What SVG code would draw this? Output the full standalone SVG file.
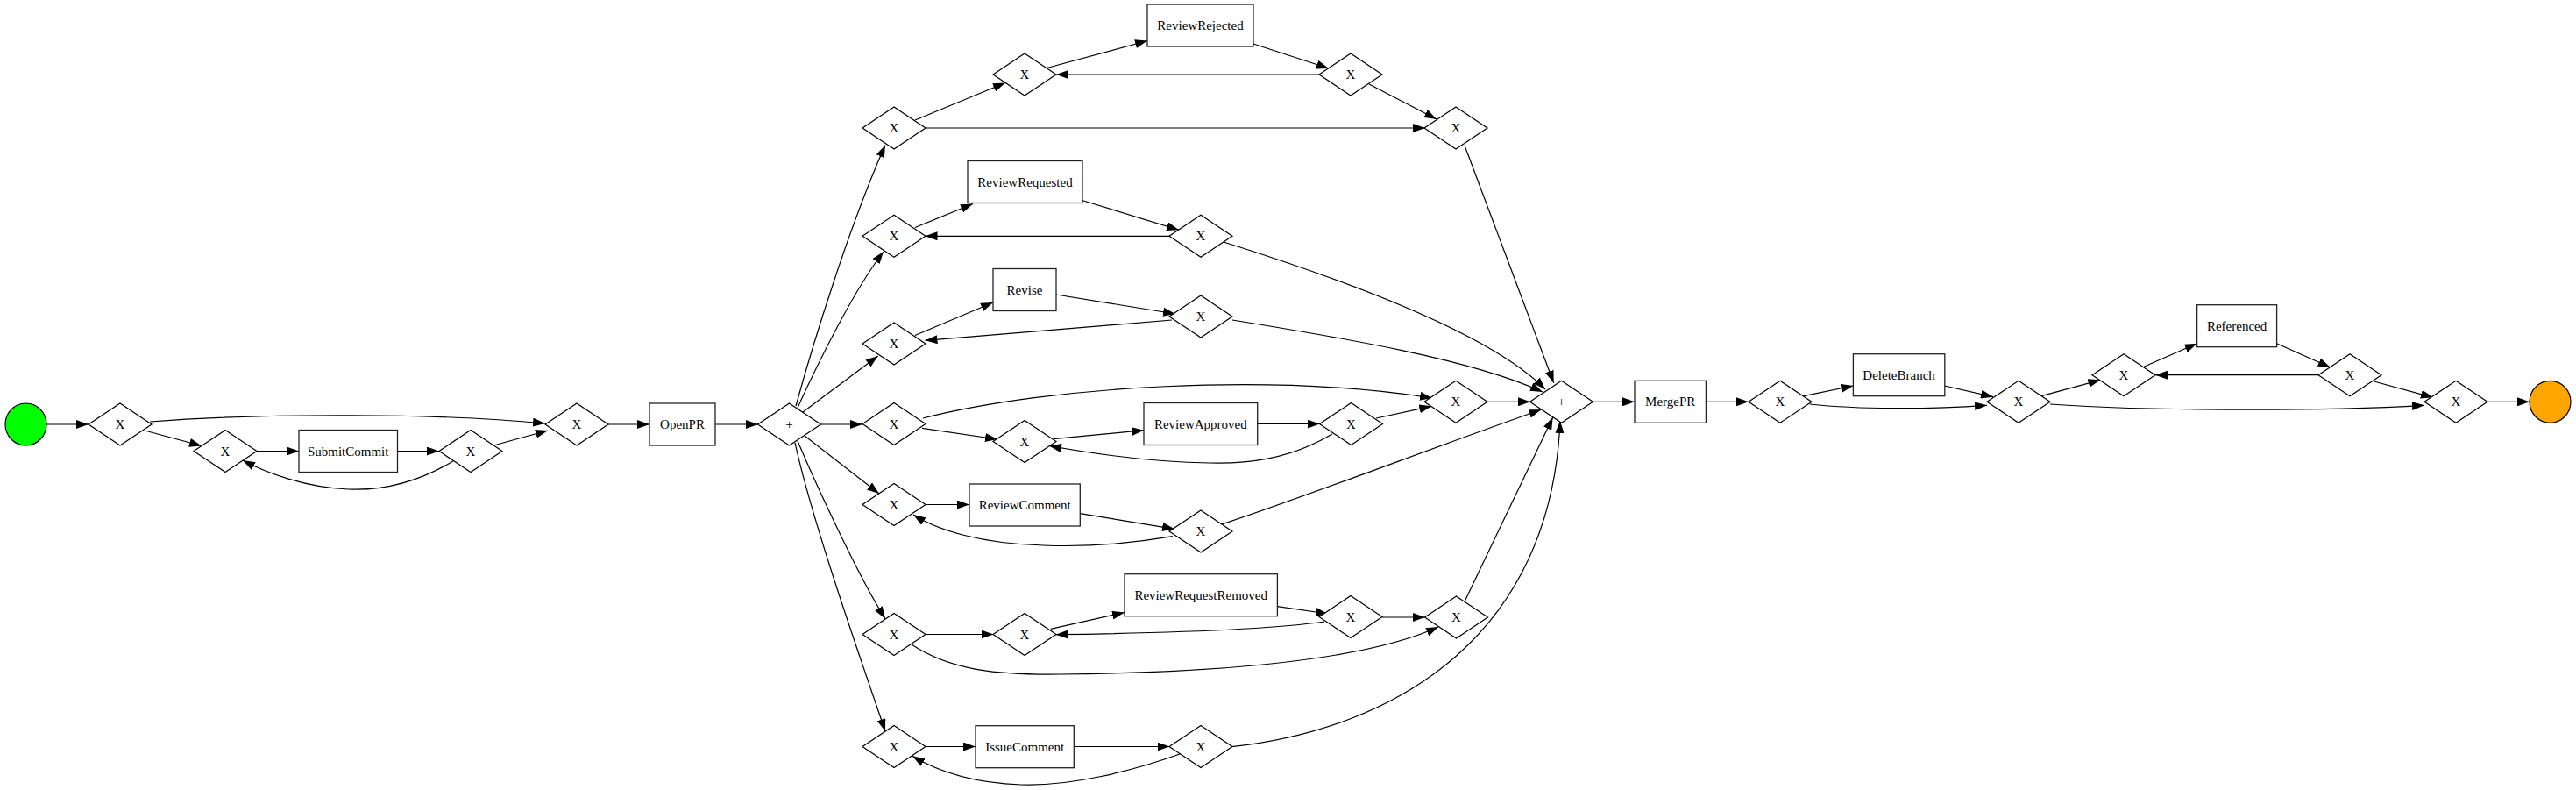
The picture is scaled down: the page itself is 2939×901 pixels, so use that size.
<svg xmlns="http://www.w3.org/2000/svg" xmlns:xlink="http://www.w3.org/1999/xlink" width="2939" height="901" viewBox="0 0 2939 901">
<style>
  .gw { fill: #ffffff; stroke: #000000; stroke-width: 1.2; }
  .task { fill: #ffffff; stroke: #222222; stroke-width: 1.3; }
  .ev { stroke: #000000; stroke-width: 1.2; }
  .lbl { font-family: "Liberation Serif", "Times New Roman", serif; font-size: 15px; fill: #000000; text-anchor: middle; }
  .edge { fill: none; stroke: #000000; stroke-width: 1.2; marker-end: url(#arr); }
</style>
<defs>
  <polygon id="dia" points="-36,0 0,-24 36,0 0,24"/>
  <marker id="arr" markerUnits="userSpaceOnUse" viewBox="0 0 14 10" refX="14" refY="5" markerWidth="14" markerHeight="10" orient="auto">
    <path d="M0,0 L14,5 L0,10 z" fill="#000000"/>
  </marker>
</defs>
<rect x="0" y="0" width="2939" height="901" fill="#ffffff"/>

<g id="connectors">
  <path class="edge" d="M53,484 L101,484"/>
  <path class="edge" d="M171,481 C300,471 500,471 622,483"/>
  <path class="edge" d="M165,491 L230,508.5"/>
  <path class="edge" d="M293,514.5 L341,514.5"/>
  <path class="edge" d="M453.5,514.5 L501,514.5"/>
  <path class="edge" d="M517,526 C480,548 440,560 397,558 C350,556 305,540 277,525"/>
  <path class="edge" d="M565,507.5 L625,491"/>
  <path class="edge" d="M694,484 L741,484"/>
  <path class="edge" d="M816,484 L865,484"/>

  <path class="edge" d="M908,463 C928,390 970,255 1010,165.5"/>
  <path class="edge" d="M910,465 C935,410 975,330 1008,287"/>
  <path class="edge" d="M916,470 L1001.7,406"/>
  <path class="edge" d="M936,484 L984,484"/>
  <path class="edge" d="M918,497 L1003,563"/>
  <path class="edge" d="M910,503 C930,550 978,655 1010,705.7"/>
  <path class="edge" d="M907,505 C928,600 985,760 1010,834"/>

  <path class="edge" d="M1044,137 L1147,94.5"/>
  <path class="edge" d="M1056,146 L1626,146"/>
  <path class="edge" d="M1194.5,77.5 L1309,46.5"/>
  <path class="edge" d="M1430,50 L1516,78"/>
  <path class="edge" d="M1505.5,85 L1205,85"/>
  <path class="edge" d="M1562,96 L1639,136"/>
  <path class="edge" d="M1671,166 L1772.7,436.7"/>

  <path class="edge" d="M1044,259.5 L1110,232.5"/>
  <path class="edge" d="M1234.6,228.5 L1345,262.3"/>
  <path class="edge" d="M1334,269.3 L1055.5,269.3"/>
  <path class="edge" d="M1396,276 C1530,318 1700,380 1763,444"/>

  <path class="edge" d="M1044,382.5 L1133,345"/>
  <path class="edge" d="M1205,336 L1341,358"/>
  <path class="edge" d="M1337,365 L1055.5,388.3"/>
  <path class="edge" d="M1406,365 C1530,385 1680,410 1760,447"/>

  <path class="edge" d="M1053,477 C1200,440 1450,425 1634,454"/>
  <path class="edge" d="M1052,488.3 L1138,501"/>
  <path class="edge" d="M1201.7,500.7 L1305,490.7"/>
  <path class="edge" d="M1434.7,483.5 L1505.7,483.5"/>
  <path class="edge" d="M1520,495 C1470,525 1420,529 1380,528 C1310,527 1250,518 1197,508.5"/>
  <path class="edge" d="M1570,477 L1633.3,463.3"/>
  <path class="edge" d="M1697,458.3 L1746,458.3"/>

  <path class="edge" d="M1056,575.5 L1106,575.5"/>
  <path class="edge" d="M1232.3,585.7 L1340,603.3"/>
  <path class="edge" d="M1338,611.7 C1290,620 1240,624 1190,622 C1120,620 1070,605 1042,587"/>
  <path class="edge" d="M1393,598.3 C1480,570 1650,505 1758.3,467.3"/>

  <path class="edge" d="M1056,723.5 L1133.5,723.5"/>
  <path class="edge" d="M1198.7,717.3 L1283,698.5"/>
  <path class="edge" d="M1457.4,691.7 L1515,700"/>
  <path class="edge" d="M1511,709 C1450,718 1330,722 1204.5,723.7"/>
  <path class="edge" d="M1577,704 L1625.7,704"/>
  <path class="edge" d="M1040,735 C1085,765 1140,770 1210,769 C1400,767 1560,752 1641,715"/>
  <path class="edge" d="M1671,686 L1771.7,476"/>

  <path class="edge" d="M1056,851.5 L1113,851.5"/>
  <path class="edge" d="M1225.4,851.5 L1334.5,851.5"/>
  <path class="edge" d="M1346,860 C1290,880 1220,897 1165,895 C1110,893 1070,880 1041,862.3"/>
  <path class="edge" d="M1405.4,851.7 C1600,830 1770,720 1780,480"/>

  <path class="edge" d="M1817.4,458.3 L1865,458.3"/>
  <path class="edge" d="M1946.4,458.3 L1995,458.3"/>
  <path class="edge" d="M2058,451.7 L2114.4,440"/>
  <path class="edge" d="M2064.7,461 C2120,467 2200,467 2267,462.3"/>
  <path class="edge" d="M2218.6,440 L2274,452.7"/>
  <path class="edge" d="M2329,451.7 L2396.4,433.3"/>
  <path class="edge" d="M2339,461 C2450,469 2650,469 2766,462.3"/>
  <path class="edge" d="M2446,418.3 L2506.6,391.7"/>
  <path class="edge" d="M2597.6,391.7 L2658.7,419"/>
  <path class="edge" d="M2645,427.7 L2459,427.7"/>
  <path class="edge" d="M2708.5,435 L2776,453.3"/>
  <path class="edge" d="M2837.5,458.3 L2886,458.3"/>
</g>

<g id="start"><ellipse class="ev" cx="29.5" cy="484" rx="23.5" ry="24" fill="#00ff00"/></g>
<g id="end"><ellipse class="ev" cx="2909.5" cy="458.3" rx="23.5" ry="24" fill="#ffa500"/></g>

<g id="gw_x1"><use href="#dia" class="gw" x="137" y="484"/><text class="lbl" x="137" y="489">X</text></g>
<g id="gw_x2"><use href="#dia" class="gw" x="257" y="514.5"/><text class="lbl" x="257" y="519.5">X</text></g>
<g id="task_submitcommit"><rect class="task" x="341" y="490.5" width="112.5" height="48"/><text class="lbl" x="397.2" y="519.5">SubmitCommit</text></g>
<g id="gw_x3"><use href="#dia" class="gw" x="537" y="514.5"/><text class="lbl" x="537" y="519.5">X</text></g>
<g id="gw_x4"><use href="#dia" class="gw" x="658" y="484"/><text class="lbl" x="658" y="489">X</text></g>
<g id="task_openpr"><rect class="task" x="741" y="460" width="75" height="48"/><text class="lbl" x="778.5" y="489">OpenPR</text></g>
<g id="gw_fork"><use href="#dia" class="gw" x="900.5" y="484"/><text class="lbl" x="900.5" y="489">+</text></g>

<g id="gw_c"><use href="#dia" class="gw" x="1020" y="146"/><text class="lbl" x="1020" y="151">X</text></g>
<g id="gw_a"><use href="#dia" class="gw" x="1169" y="85"/><text class="lbl" x="1169" y="90">X</text></g>
<g id="task_reviewrejected"><rect class="task" x="1309" y="5" width="121" height="48"/><text class="lbl" x="1369.5" y="34">ReviewRejected</text></g>
<g id="gw_b"><use href="#dia" class="gw" x="1541" y="85"/><text class="lbl" x="1541" y="90">X</text></g>
<g id="gw_d"><use href="#dia" class="gw" x="1661" y="146"/><text class="lbl" x="1661" y="151">X</text></g>

<g id="gw_e"><use href="#dia" class="gw" x="1020" y="269.3"/><text class="lbl" x="1020" y="274.3">X</text></g>
<g id="task_reviewrequested"><rect class="task" x="1104" y="183.5" width="131" height="48"/><text class="lbl" x="1169.5" y="212.5">ReviewRequested</text></g>
<g id="gw_f"><use href="#dia" class="gw" x="1370" y="269.3"/><text class="lbl" x="1370" y="274.3">X</text></g>

<g id="gw_g"><use href="#dia" class="gw" x="1020" y="392"/><text class="lbl" x="1020" y="397">X</text></g>
<g id="task_revise"><rect class="task" x="1133" y="306.5" width="72" height="48"/><text class="lbl" x="1169" y="335.5">Revise</text></g>
<g id="gw_h"><use href="#dia" class="gw" x="1370" y="361"/><text class="lbl" x="1370" y="366">X</text></g>

<g id="gw_i"><use href="#dia" class="gw" x="1020" y="483.5"/><text class="lbl" x="1020" y="488.5">X</text></g>
<g id="gw_j"><use href="#dia" class="gw" x="1169" y="503.5"/><text class="lbl" x="1169" y="508.5">X</text></g>
<g id="task_reviewapproved"><rect class="task" x="1305" y="459.5" width="129.7" height="48"/><text class="lbl" x="1369.8" y="488.5">ReviewApproved</text></g>
<g id="gw_k"><use href="#dia" class="gw" x="1541.5" y="483.5"/><text class="lbl" x="1541.5" y="488.5">X</text></g>
<g id="gw_l"><use href="#dia" class="gw" x="1661" y="458.3"/><text class="lbl" x="1661" y="463.3">X</text></g>

<g id="gw_m"><use href="#dia" class="gw" x="1020" y="575.5"/><text class="lbl" x="1020" y="580.5">X</text></g>
<g id="task_reviewcomment"><rect class="task" x="1106" y="552" width="126.3" height="48"/><text class="lbl" x="1169.2" y="581">ReviewComment</text></g>
<g id="gw_n"><use href="#dia" class="gw" x="1370" y="606"/><text class="lbl" x="1370" y="611">X</text></g>

<g id="gw_o"><use href="#dia" class="gw" x="1020" y="723.5"/><text class="lbl" x="1020" y="728.5">X</text></g>
<g id="gw_p"><use href="#dia" class="gw" x="1169" y="723.5"/><text class="lbl" x="1169" y="728.5">X</text></g>
<g id="task_reviewrequestremoved"><rect class="task" x="1283" y="654.7" width="174.4" height="48"/><text class="lbl" x="1370.2" y="683.7">ReviewRequestRemoved</text></g>
<g id="gw_q"><use href="#dia" class="gw" x="1541" y="703.5"/><text class="lbl" x="1541" y="708.5">X</text></g>
<g id="gw_r"><use href="#dia" class="gw" x="1661.5" y="704"/><text class="lbl" x="1661.5" y="709">X</text></g>

<g id="gw_s"><use href="#dia" class="gw" x="1020" y="851.5"/><text class="lbl" x="1020" y="856.5">X</text></g>
<g id="task_issuecomment"><rect class="task" x="1113" y="827.7" width="112.3" height="48"/><text class="lbl" x="1169.2" y="856.7">IssueComment</text></g>
<g id="gw_t"><use href="#dia" class="gw" x="1370" y="851.5"/><text class="lbl" x="1370" y="856.5">X</text></g>

<g id="gw_join"><use href="#dia" class="gw" x="1781.5" y="458.3"/><text class="lbl" x="1781.5" y="463.3">+</text></g>
<g id="task_mergepr"><rect class="task" x="1865" y="434.3" width="81.4" height="48"/><text class="lbl" x="1905.7" y="463.3">MergePR</text></g>
<g id="gw_u"><use href="#dia" class="gw" x="2031" y="458.3"/><text class="lbl" x="2031" y="463.3">X</text></g>
<g id="task_deletebranch"><rect class="task" x="2114.4" y="403.7" width="104.4" height="48"/><text class="lbl" x="2166.6" y="432.7">DeleteBranch</text></g>
<g id="gw_v"><use href="#dia" class="gw" x="2303" y="458.3"/><text class="lbl" x="2303" y="463.3">X</text></g>
<g id="gw_w"><use href="#dia" class="gw" x="2423" y="427.7"/><text class="lbl" x="2423" y="432.7">X</text></g>
<g id="task_referenced"><rect class="task" x="2506.6" y="347.7" width="91" height="48"/><text class="lbl" x="2552.1" y="376.7">Referenced</text></g>
<g id="gw_y"><use href="#dia" class="gw" x="2681" y="427.7"/><text class="lbl" x="2681" y="432.7">X</text></g>
<g id="gw_z"><use href="#dia" class="gw" x="2802" y="458.3"/><text class="lbl" x="2802" y="463.3">X</text></g>
</svg>
